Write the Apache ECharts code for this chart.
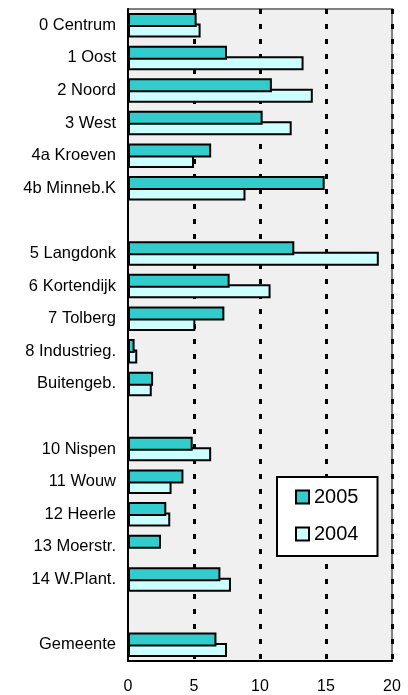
<!DOCTYPE html>
<html>
<head>
<meta charset="utf-8">
<script src="https://cdn.jsdelivr.net/npm/echarts@6/dist/echarts.min.js"></script>
<style>
  html, body { margin: 0; padding: 0; background: #fff; }
  #barChart { width: 408px; height: 695px; }
</style>
</head>
<body>
<div id="barChart"></div>
<script>
// wijken, lege regels zijn scheidingen tussen groepen
const categories = [
  '0 Centrum', '1 Oost', '2 Noord', '3 West', '4a Kroeven', '4b Minneb.K', ' ',
  '5 Langdonk', '6 Kortendijk', '7 Tolberg', '8 Industrieg.', 'Buitengeb.', '  ',
  '10 Nispen', '11 Wouw', '12 Heerle', '13 Moerstr.', '14 W.Plant.', '   ',
  'Gemeente'
]
const values2005 = [
  5.2, 7.5, 10.9, 10.2, 6.3, 14.9, null,
  12.6, 7.7, 7.3, 0.5, 1.9, null,
  4.9, 4.2, 2.9, 2.5, 7.0, null,
  6.7
]
const values2004 = [
  5.5, 13.3, 14.0, 12.4, 5.0, 8.9, null,
  19.0, 10.8, 5.1, 0.7, 1.8, null,
  6.3, 3.3, 3.2, null, 7.8, null,
  7.5
]
const xTicks = { min: 0, max: 20, interval: 5 }

let myChart = echarts.init(document.getElementById('barChart'))
let font = 'Arial, "Liberation Sans", sans-serif'
let options = {
  animation: false,
  grid: {
    left: 128,
    right: 16,
    top: 9,
    bottom: 34,
    show: true,
    backgroundColor: '#f0f0f0',
    borderColor: '#808080',
    borderWidth: 2
  },
  legend: {
    orient: 'vertical',
    left: 277,
    top: 477,
    backgroundColor: '#ffffff',
    borderColor: '#000000',
    borderWidth: 2,
    borderRadius: 0,
    padding: [10, 19, 12, 18],
    itemWidth: 13,
    itemHeight: 13,
    itemGap: 17,
    icon: 'rect',
    data: ['2005', '2004'],
    textStyle: { fontSize: 20, color: '#000', fontFamily: font }
  },
  xAxis: {
    type: 'value',
    min: xTicks.min,
    max: xTicks.max,
    interval: xTicks.interval,
    axisLine: { show: true, lineStyle: { color: '#000', width: 2 } },
    axisTick: { show: false },
    axisLabel: { fontSize: 16, color: '#000', margin: 18, fontFamily: font },
    splitLine: {
      show: true,
      showMinLine: false,
      lineStyle: { color: '#000', width: 3, type: [5, 10] }
    }
  },
  yAxis: {
    type: 'category',
    inverse: true,
    data: categories,
    axisLine: { show: true, lineStyle: { color: '#000', width: 2 } },
    axisTick: { show: false },
    axisLabel: { fontSize: 16.5, color: '#000', margin: 12, fontFamily: font }
  },
  series: [
    {
      name: '2005',
      type: 'bar',
      z: 3,
      barWidth: 14,
      barGap: '-25%',
      data: values2005,
      itemStyle: { color: '#33cccc', borderColor: '#000', borderWidth: 2 }
    },
    {
      name: '2004',
      type: 'bar',
      z: 2,
      barWidth: 14,
      barGap: '-25%',
      data: values2004,
      itemStyle: { color: '#ccffff', borderColor: '#000', borderWidth: 2 }
    }
  ]
}
myChart.setOption(options)
</script>
</body>
</html>
